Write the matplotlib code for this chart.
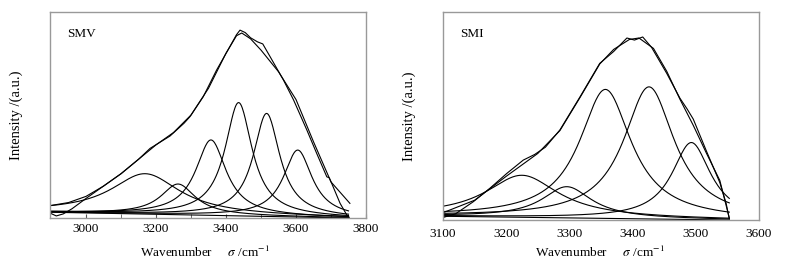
import numpy as np
import matplotlib.pyplot as plt

plt.rcParams['font.family'] = ['Liberation Serif', 'DejaVu Serif']
plt.rcParams['mathtext.fontset'] = 'stix'

# ---- SMV (left) ----
smv_meas_x = [2897, 2915, 2935, 2960, 3000, 3050, 3100, 3150, 3183, 3240, 3280, 3297, 3335,
              3373, 3411, 3430, 3440, 3455, 3470, 3490, 3505, 3526, 3564, 3593, 3631, 3659,
              3688, 3695, 3702, 3726, 3745, 3752]
smv_meas_y = [2.4, 1.0, 2.0, 4.5, 9.5, 15.5, 21.5, 28.5, 33.8, 39.8, 46.0, 49.2, 58.9,
              71.8, 83.2, 89.0, 91.2, 90.0, 87.5, 85.5, 84.5, 78.3, 67.0, 57.3, 42.7, 31.4,
              20.0, 19.5, 16.8, 7.1, 1.5, 0.3]
smv_fit_x = [2897, 2950, 3000, 3050, 3100, 3150, 3200, 3250, 3300, 3350, 3400, 3430, 3445,
             3470, 3500, 3550, 3600, 3650, 3700, 3754]
smv_fit_y = [6.0, 7.5, 10.5, 15.5, 21.5, 28.5, 35.5, 41.5, 50.0, 63.0, 80.0, 88.5, 89.8,
             87.0, 81.5, 71.0, 57.5, 37.0, 17.5, 7.1]
smv_centers = [3169, 3263, 3357, 3436, 3516, 3605]
smv_heights = [19.6, 14.9, 36.6, 55.0, 50.0, 32.5]
smv_fwhm = [240, 120, 106, 94, 92, 100]
smv_base_x = [2897, 3750]
smv_base_y = [2.8, 0.0]

# ---- SMI (right) ----
smi_meas_x = [3100, 3120, 3148, 3174, 3201, 3227, 3245, 3262, 3285, 3317, 3348, 3370, 3391,
              3403, 3416, 3430, 3454, 3475, 3486, 3496, 3517, 3538, 3548, 3553]
smi_meas_y = [1.2, 3.0, 8.8, 15.2, 22.4, 28.8, 31.5, 35.0, 43.3, 59.3, 75.3, 81.0, 87.5,
              86.5, 88.0, 83.0, 70.5, 58.5, 53.5, 48.5, 33.0, 18.0, 8.0, 0.5]
smi_fit_x = [3100, 3150, 3200, 3250, 3285, 3317, 3348, 3370, 3395, 3410, 3433, 3454, 3475,
             3496, 3517, 3538, 3553]
smi_fit_y = [3.5, 9.5, 21.0, 32.0, 43.0, 59.0, 75.0, 82.0, 86.8, 87.5, 82.5, 71.5, 58.0,
             45.5, 32.0, 19.0, 1.0]
smi_centers = [3225, 3296, 3357, 3426, 3493]
smi_heights = [20.2, 15.0, 62.0, 63.5, 37.0]
smi_fwhm = [140, 95, 100, 98, 75]
smi_base_x = [3100, 3553]
smi_base_y = [1.8, 0.0]


def lorentz(x, c, h, w):
    return h / (1 + (2 * (x - c) / w) ** 2)


def draw_panel(ax, mx, my, fx, fy, centers, heights, fwhm, bx, by):
    xs = np.linspace(bx[0], bx[1], 400)
    base = np.interp(xs, bx, by)
    ax.plot(bx, by, color='black', lw=0.8)
    for c, h, w in zip(centers, heights, fwhm):
        ax.plot(xs, base + lorentz(xs, c, h, w), color='black', lw=0.8)
    ax.plot(fx, fy, color='black', lw=0.8)
    ax.plot(mx, my, color='black', lw=0.8)
    for s in ax.spines.values():
        s.set_color('#999999')
        s.set_linewidth(1.0)
    ax.set_yticks([])
    ax.set_ylim(0, 100)
    ax.set_ylabel('Intensity /(a.u.)', fontsize=10.5)
    ax.yaxis.set_label_coords(-0.085, 0.5)
    ax.set_xlabel(r'Wavenumber     $\sigma$ /cm$^{-1}$', fontsize=9.5)
    ax.tick_params(axis='x', labelsize=9.5)


fig = plt.figure(figsize=(7.98, 2.64), dpi=100)
ax1 = fig.add_axes([50 / 798, 1 - 218 / 264, 316 / 798, 206 / 264])
ax2 = fig.add_axes([443 / 798, 1 - 220 / 264, 316 / 798, 208 / 264])

draw_panel(ax1, smv_meas_x, smv_meas_y, smv_fit_x, smv_fit_y,
           smv_centers, smv_heights, smv_fwhm, smv_base_x, smv_base_y)
ax1.set_xlim(2897, 3800)
ax1.set_xticks([3000, 3200, 3400, 3600, 3800])
ax1.set_xticks(np.arange(3000, 3800, 100), minor=True)
ax1.tick_params(axis='x', which='both', direction='in', length=3, color='#555555')
ax1.xaxis.set_label_coords(0.49, -0.13)
ax1.text(0.055, 0.88, 'SMV', transform=ax1.transAxes, fontsize=9.5)

draw_panel(ax2, smi_meas_x, smi_meas_y, smi_fit_x, smi_fit_y,
           smi_centers, smi_heights, smi_fwhm, smi_base_x, smi_base_y)
ax2.set_xlim(3100, 3600)
ax2.set_xticks([3100, 3200, 3300, 3400, 3500, 3600])
ax2.tick_params(axis='x', length=0, pad=6)
ax2.xaxis.set_label_coords(0.497, -0.12)
ax2.text(0.055, 0.88, 'SMI', transform=ax2.transAxes, fontsize=9.5)

fig.savefig('out.png', dpi=100)
